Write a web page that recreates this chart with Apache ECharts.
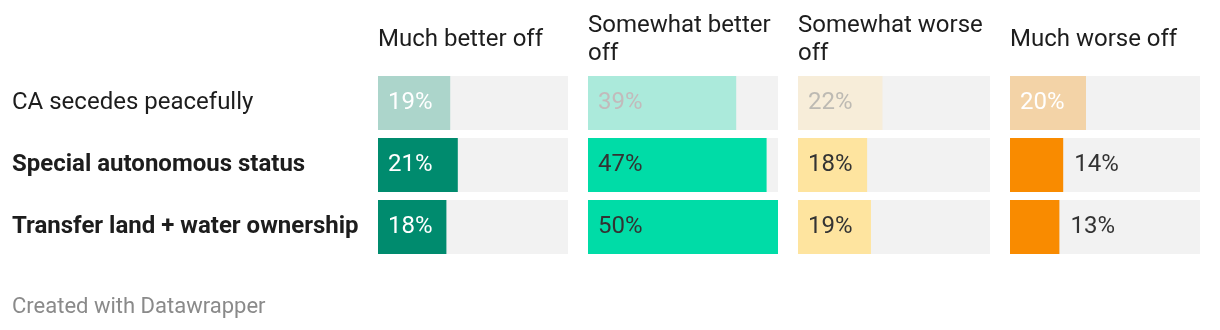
<!DOCTYPE html>
<html><head><meta charset="utf-8">
<script src="https://cdn.jsdelivr.net/npm/echarts@6/dist/echarts.min.js"></script>
<style>html,body{margin:0;padding:0;background:#fff}#c{width:1220px;height:330px}</style>
</head><body><div id="c"></div>
<script>
const categories = ['CA secedes peacefully', 'Special autonomous status', 'Transfer land + water ownership'];
const boldRows = [false, true, true];
const columns = ['Much better off', 'Somewhat better\noff', 'Somewhat worse\noff', 'Much worse off'];
const muchBetter = [19, 21, 18];
const somewhatBetter = [39, 47, 50];
const somewhatWorse = [22, 18, 19];
const muchWorse = [20, 14, 13];
const seriesValues = [muchBetter, somewhatBetter, somewhatWorse, muchWorse];
const footer = 'Created with Datawrapper';

const fullColors = ['#008b6e', '#00dca7', '#fee49f', '#f98b00'];
const fadedColors = ['#acd5cb', '#abeadb', '#f7edd9', '#f3d3a7'];
const labelDark = ['#ffffff', '#333333', '#333333', '#333333'];
const labelFaded = ['#ffffff', '#c2babb', '#bdbab3', '#ffffff'];
const gridLefts = [378, 588, 798, 1010];
const gridWidths = [190, 190, 192, 190];
const FONT = 'Roboto, "Noto Sans", sans-serif';

const grids = [], xAxes = [], yAxes = [], series = [], graphics = [];
seriesValues.forEach((vals, p) => {
  grids.push({left: gridLefts[p], width: gridWidths[p], top: 72, height: 186});
  xAxes.push({gridIndex: p, type: 'value', min: 0, max: 50, show: false});
  yAxes.push({
    gridIndex: p, type: 'category', data: categories, inverse: true,
    axisLine: {show: false}, axisTick: {show: false}, splitLine: {show: false},
    axisLabel: p === 0 ? {
      show: true, align: 'left', margin: 366,
      formatter: (v, i) => boldRows[i] ? '{b|' + v + '}' : '{n|' + v + '}',
      rich: {
        n: {fontFamily: FONT, fontSize: 24, color: '#1d1d1d'},
        b: {fontFamily: FONT, fontSize: 24, fontWeight: 'bold', color: '#1d1d1d'}
      }
    } : {show: false}
  });
  series.push({
    type: 'bar', xAxisIndex: p, yAxisIndex: p, barWidth: 54,
    showBackground: true, backgroundStyle: {color: '#f2f2f2'},
    data: vals.map((v, i) => {
      const outside = v < 16;
      return {
        value: v,
        itemStyle: {color: i === 0 ? fadedColors[p] : fullColors[p]},
        label: {
          show: true,
          position: outside ? 'right' : 'insideLeft',
          distance: outside ? 11 : 10,
          color: i === 0 ? labelFaded[p] : (outside ? '#333333' : labelDark[p])
        }
      };
    }),
    label: {show: true, formatter: '{c}%', fontFamily: FONT, fontSize: 24},
    silent: true
  });
  graphics.push({
    type: 'text', left: gridLefts[p], top: columns[p].indexOf('\n') >= 0 ? 12 : 26,
    style: {text: columns[p], font: '24px ' + FONT, fill: '#1d1d1d', lineHeight: 28}
  });
});
graphics.push({type: 'text', left: 12, top: 296, style: {text: footer, font: '22px ' + FONT, fill: '#8a8a8a'}});

const chart = echarts.init(document.getElementById('c'), null, {renderer: 'canvas'});
chart.setOption({
  animation: false,
  grid: grids, xAxis: xAxes, yAxis: yAxes, series: series, graphic: graphics
});
</script></body></html>
